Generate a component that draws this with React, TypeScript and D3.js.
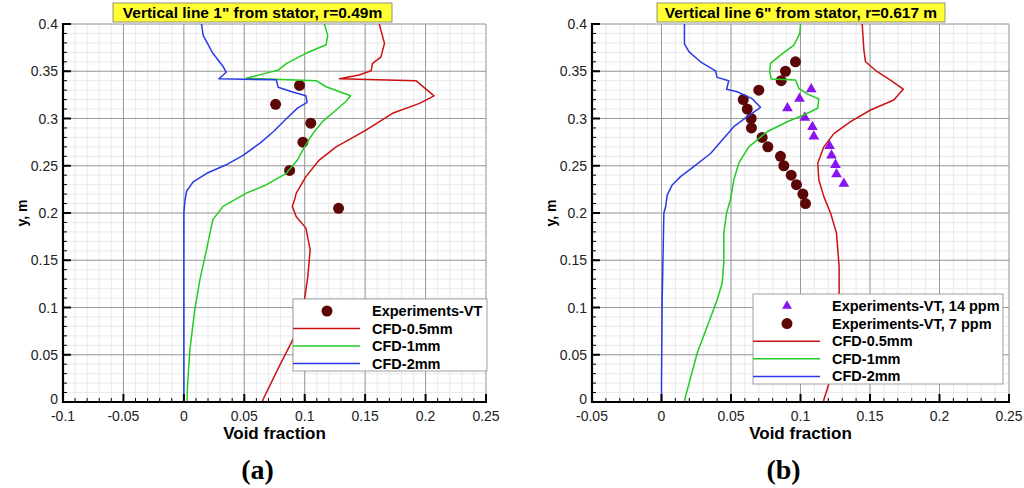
import React from "react";
import * as d3 from "d3";

type Pt = [number, number];

// Panel (a): 1" from stator, r=0.49m  -- [void fraction, y]
const aRed: Pt[] = [
  [0.1617, 0.4], [0.166, 0.3795], [0.163, 0.365], [0.156, 0.358], [0.155, 0.3505], [0.145, 0.346],
  [0.1287, 0.342], [0.192, 0.34], [0.207, 0.324], [0.195, 0.316], [0.1727, 0.3055], [0.151, 0.288],
  [0.126, 0.27], [0.112, 0.256], [0.101, 0.2385], [0.093, 0.221], [0.0916, 0.214], [0.0897, 0.207],
  [0.093, 0.196], [0.101, 0.184], [0.1045, 0.161], [0.1026, 0.133], [0.0998, 0.108], [0.0902, 0.066],
  [0.079, 0.038], [0.0654, 0.0024], [0.065, 0],
];
const aGreen: Pt[] = [
  [0.1163, 0.4], [0.119, 0.388], [0.1177, 0.378], [0.101, 0.369], [0.0847, 0.358], [0.0778, 0.351],
  [0.068, 0.348], [0.0517, 0.3425], [0.1095, 0.34], [0.1177, 0.3336], [0.138, 0.324], [0.134, 0.318],
  [0.126, 0.309], [0.115, 0.297], [0.1067, 0.284], [0.0998, 0.27], [0.094, 0.256], [0.0847, 0.242],
  [0.068, 0.2297], [0.0517, 0.221], [0.0325, 0.207], [0.024, 0.193], [0.0187, 0.161], [0.0132, 0.129],
  [0.009, 0.0976], [0.005, 0.055], [0.003, 0.0165], [0.0026, 0],
];
const aBlue: Pt[] = [
  [0.0146, 0.4], [0.016, 0.388], [0.024, 0.369], [0.0325, 0.355], [0.035, 0.349], [0.0325, 0.346],
  [0.029, 0.342], [0.0765, 0.341], [0.078, 0.333], [0.09, 0.328], [0.101, 0.324], [0.102, 0.317],
  [0.094, 0.311], [0.085, 0.3], [0.074, 0.286], [0.063, 0.274], [0.049, 0.261], [0.035, 0.251],
  [0.019, 0.242], [0.0077, 0.233], [0.0022, 0.223], [0.001, 0.214], [0, 0.2], [0, 0],
];
const aExp: Pt[] = [
  [0.0957, 0.335], [0.0759, 0.315], [0.105, 0.295], [0.0985, 0.275], [0.0875, 0.245], [0.128, 0.205],
];

// Panel (b): 6" from stator, r=0.617 m
const bRed: Pt[] = [
  [0.1444, 0.4], [0.1456, 0.3724], [0.1468, 0.36], [0.1552, 0.3495], [0.1647, 0.3407], [0.1739, 0.331],
  [0.1671, 0.3196], [0.1504, 0.309], [0.136, 0.2966], [0.124, 0.284], [0.1168, 0.27], [0.1124, 0.2527],
  [0.1132, 0.235], [0.1168, 0.2173], [0.1216, 0.2], [0.1259, 0.1787], [0.1278, 0.143], [0.1278, 0.108],
  [0.1264, 0.0553], [0.1228, 0.0306], [0.1168, 0.0024], [0.1165, 0],
];
const bGreen: Pt[] = [
  [0.1, 0.4], [0.0995, 0.39], [0.0952, 0.3777], [0.0856, 0.367], [0.0784, 0.3584], [0.0779, 0.3495],
  [0.0789, 0.3418], [0.0964, 0.3407], [0.0988, 0.332], [0.1048, 0.326], [0.1132, 0.3207], [0.1124, 0.3108],
  [0.1024, 0.3037], [0.0904, 0.2966], [0.076, 0.286], [0.0628, 0.27], [0.0556, 0.2527], [0.052, 0.235],
  [0.0496, 0.214], [0.0468, 0.2], [0.0448, 0.1787], [0.0448, 0.147], [0.0437, 0.126], [0.04, 0.108],
  [0.0329, 0.08], [0.0257, 0.0518], [0.0173, 0.006], [0.0165, 0],
];
const bBlue: Pt[] = [
  [0.0165, 0.4], [0.0165, 0.379], [0.0197, 0.3707], [0.028, 0.36], [0.0389, 0.3505], [0.04, 0.3435],
  [0.0484, 0.34], [0.0468, 0.331], [0.0544, 0.3283], [0.0652, 0.321], [0.0712, 0.3118], [0.0617, 0.302],
  [0.052, 0.2913], [0.0448, 0.279], [0.0353, 0.263], [0.0232, 0.249], [0.0137, 0.2385], [0.0077, 0.2297],
  [0.0041, 0.219], [0.0029, 0.206], [0.0017, 0.2], [0.0005, 0.108], [0, 0.02], [0, 0],
];
const bExp7: Pt[] = [
  [0.0964, 0.36], [0.0892, 0.35], [0.0861, 0.34], [0.07, 0.33], [0.0588, 0.32], [0.0617, 0.31],
  [0.0645, 0.3], [0.0647, 0.29], [0.0724, 0.28], [0.0765, 0.27], [0.0856, 0.26], [0.088, 0.25],
  [0.0933, 0.24], [0.0971, 0.23], [0.1017, 0.22], [0.1036, 0.21],
];
const bExp14: Pt[] = [
  [0.1077, 0.331], [0.0993, 0.321], [0.0906, 0.311], [0.1031, 0.301], [0.1086, 0.291], [0.1096, 0.281],
  [0.1209, 0.271], [0.1223, 0.261], [0.1252, 0.251], [0.1259, 0.241], [0.1312, 0.231],
];

const yTicks = [0, 0.05, 0.1, 0.15, 0.2, 0.25, 0.3, 0.35, 0.4];
const aXTicks = [-0.1, -0.05, 0, 0.05, 0.1, 0.15, 0.2, 0.25];
const bXTicks = [-0.05, 0, 0.05, 0.1, 0.15, 0.2, 0.25];
const aLegend = ["Experiments-VT", "CFD-0.5mm", "CFD-1mm", "CFD-2mm"];
const bLegend = ["Experiments-VT, 14 ppm", "Experiments-VT, 7 ppm", "CFD-0.5mm", "CFD-1mm", "CFD-2mm"];

const RED = "#cc1111";
const GREEN = "#22cc22";
const BLUE = "#2a3ae6";
const DOT = "#5c0606";
const TRI = "#8a14f0";
const FONT = "'Liberation Sans', Arial, sans-serif";

const fmt = (v: number) => String(+v.toFixed(2));

type Series = { kind: "line" | "dot" | "tri"; color: string; pts: Pt[]; label: string };

const Panel = ({
  x0, x1, xDomain, xTicks, title, titleBox, series, legendBox, legendRowH, tag,
}: {
  x0: number; x1: number; xDomain: [number, number]; xTicks: number[]; title: string;
  titleBox: [number, number]; series: Series[]; legendBox: [number, number, number, number];
  legendRowH: number; tag: string;
}) => {
  const top = 24, bottom = 402;
  const x = d3.scaleLinear().domain(xDomain).range([x0, x1]);
  const y = d3.scaleLinear().domain([0, 0.4]).range([bottom, top]);
  const line = d3.line<Pt>().x((d) => x(d[0])).y((d) => y(d[1]));
  const xMinor = d3.range(Math.round(xDomain[0] * 100), Math.round(xDomain[1] * 100) + 1).map((v) => v / 100);
  const yMinor = d3.range(0, 41).map((v) => v / 100);
  const [lx, ly, lw, lh] = legendBox;
  const markerX = lx + 34;
  const lineEnd = lx + 67;
  const textX = lx + 79;
  const tri = d3.symbol().type(d3.symbolTriangle).size(50)();
  const legTri = d3.symbol().type(d3.symbolTriangle).size(42)();

  return (
    <g>
      {/* minor grid */}
      {xMinor.map((v) => (
        <line key={"xm" + v} x1={x(v)} x2={x(v)} y1={top} y2={bottom} stroke="#e4e4e4" strokeWidth={0.8} />
      ))}
      {yMinor.map((v) => (
        <line key={"ym" + v} x1={x0} x2={x1} y1={y(v)} y2={y(v)} stroke="#e4e4e4" strokeWidth={0.8} />
      ))}
      {/* major grid */}
      {xTicks.map((v) => (
        <line key={"xg" + v} x1={x(v)} x2={x(v)} y1={top} y2={bottom} stroke="#9a9a9a" strokeWidth={1} />
      ))}
      {yTicks.map((v) => (
        <line key={"yg" + v} x1={x0} x2={x1} y1={y(v)} y2={y(v)} stroke="#9a9a9a" strokeWidth={1} />
      ))}

      {series.map((s, i) =>
        s.kind === "line" ? (
          <path key={i} d={line(s.pts) || ""} fill="none" stroke={s.color} strokeWidth={1.5} strokeLinejoin="round" />
        ) : s.kind === "dot" ? (
          <g key={i}>
            {s.pts.map((p, j) => (
              <circle key={j} cx={x(p[0])} cy={y(p[1])} r={5.5} fill={s.color} />
            ))}
          </g>
        ) : (
          <g key={i}>
            {s.pts.map((p, j) => (
              <path key={j} d={tri || ""} transform={`translate(${x(p[0])},${y(p[1])})`} fill={s.color} />
            ))}
          </g>
        )
      )}

      {/* axes */}
      <line x1={x0} x2={x0} y1={top - 1} y2={bottom + 1} stroke="#000" strokeWidth={2.2} />
      <line x1={x0 - 1} x2={x1 + 1} y1={bottom} y2={bottom} stroke="#000" strokeWidth={2.2} />
      {xMinor.map((v) => (
        <line key={"xt" + v} x1={x(v)} x2={x(v)} y1={bottom} y2={bottom - 4} stroke="#000" strokeWidth={1} />
      ))}
      {yMinor.map((v) => (
        <line key={"yt" + v} x1={x0} x2={x0 + 4} y1={y(v)} y2={y(v)} stroke="#000" strokeWidth={1} />
      ))}
      {xTicks.map((v) => (
        <line key={"xT" + v} x1={x(v)} x2={x(v)} y1={bottom} y2={bottom - 8} stroke="#000" strokeWidth={2} />
      ))}
      {yTicks.map((v) => (
        <line key={"yT" + v} x1={x0} x2={x0 + 8} y1={y(v)} y2={y(v)} stroke="#000" strokeWidth={2} />
      ))}
      {xTicks.map((v) => (
        <text key={"xl" + v} x={x(v)} y={bottom + 19} textAnchor="middle" fontSize={14} fontFamily={FONT} fill="#222">
          {fmt(v)}
        </text>
      ))}
      {yTicks.map((v) => (
        <text key={"yl" + v} x={x0 - 5} y={y(v) + 5 - (v === 0 ? 3 : 0)} textAnchor="end" fontSize={14}
          fontFamily={FONT} fill="#222">
          {fmt(v)}
        </text>
      ))}
      <text x={(x0 + x1) / 2} y={bottom + 37} textAnchor="middle" fontSize={17} fontWeight="bold" fontFamily={FONT}>
        Void fraction
      </text>
      <text
        transform={`translate(${x0 - 36},${(top + bottom) / 2}) rotate(-90)`}
        textAnchor="middle" fontSize={14} fontWeight="bold" fontFamily={FONT}
      >
        y, m
      </text>

      {/* title */}
      <rect x={titleBox[0]} y={3} width={titleBox[1] - titleBox[0]} height={19} fill="#ffff33" stroke="#777" strokeWidth={0.8} />
      <text x={(titleBox[0] + titleBox[1]) / 2} y={18} textAnchor="middle" fontSize={15.5} fontWeight="bold" fontFamily={FONT}>
        {title}
      </text>

      {/* legend */}
      <rect x={lx} y={ly} width={lw} height={lh} fill="#fff" stroke="#888" strokeWidth={0.8} />
      {series.map((s, i) => {
        const cy = ly + 12 + i * legendRowH;
        return (
          <g key={"lg" + i}>
            {s.kind === "line" && <line x1={lx} x2={lineEnd} y1={cy} y2={cy} stroke={s.color} strokeWidth={1.5} />}
            {s.kind === "dot" && <circle cx={markerX} cy={cy} r={5.5} fill={s.color} />}
            {s.kind === "tri" && <path d={legTri || ""} transform={`translate(${markerX},${cy})`} fill={s.color} />}
            <text x={textX} y={cy + 5} fontSize={14.5} fontWeight="bold" fontFamily={FONT}>
              {s.label}
            </text>
          </g>
        );
      })}

      <text x={(x0 + x1) / 2 - 17} y={479} textAnchor="middle" fontSize={28} fontWeight="bold"
        fontFamily="'Liberation Serif', 'Times New Roman', serif">
        ({tag})
      </text>
    </g>
  );
};

export default function App() {
  const aSeries: Series[] = [
    { kind: "dot", color: DOT, pts: aExp, label: aLegend[0] },
    { kind: "line", color: RED, pts: aRed, label: aLegend[1] },
    { kind: "line", color: GREEN, pts: aGreen, label: aLegend[2] },
    { kind: "line", color: BLUE, pts: aBlue, label: aLegend[3] },
  ];
  const bSeries: Series[] = [
    { kind: "tri", color: TRI, pts: bExp14, label: bLegend[0] },
    { kind: "dot", color: DOT, pts: bExp7, label: bLegend[1] },
    { kind: "line", color: RED, pts: bRed, label: bLegend[2] },
    { kind: "line", color: GREEN, pts: bGreen, label: bLegend[3] },
    { kind: "line", color: BLUE, pts: bBlue, label: bLegend[4] },
  ];
  return (
    <svg width={1024} height={488} style={{ position: "absolute", left: 0, top: 0, background: "#fff" }}>
      <rect width={1024} height={488} fill="#fff" />
      <Panel
        x0={63} x1={486} xDomain={[-0.1, 0.25]} xTicks={aXTicks}
        title={'Vertical line 1" from stator, r=0.49m'} titleBox={[113, 392]}
        series={aSeries} legendBox={[293, 299, 194, 72]} legendRowH={17.5} tag="a"
      />
      <Panel
        x0={592} x1={1009} xDomain={[-0.05, 0.25]} xTicks={bXTicks}
        title={'Vertical line 6" from stator, r=0.617 m'} titleBox={[657, 945]}
        series={bSeries} legendBox={[753, 294, 250, 90]} legendRowH={17.6} tag="b"
      />
    </svg>
  );
}
